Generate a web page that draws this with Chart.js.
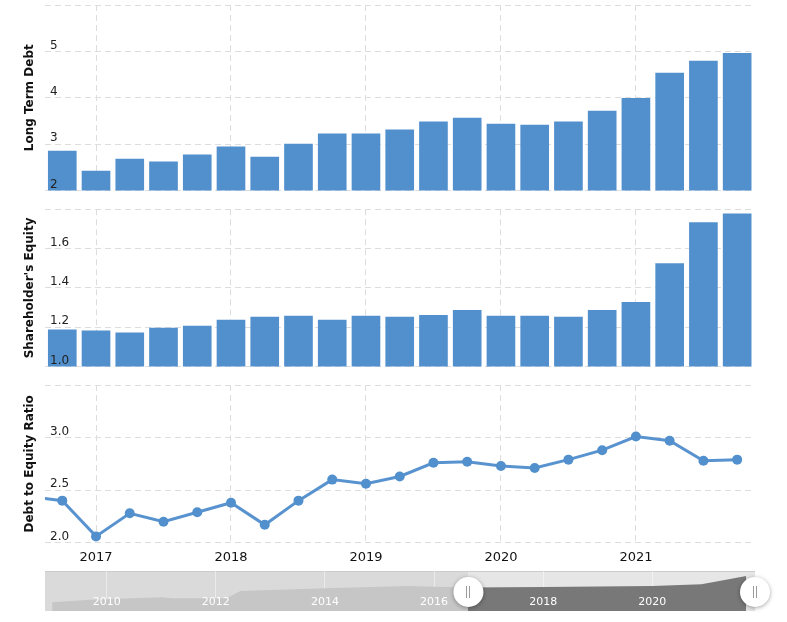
<!DOCTYPE html>
<html>
<head>
<meta charset="utf-8">
<script src="https://cdn.jsdelivr.net/npm/chart.js@4.4.1/dist/chart.umd.min.js"></script>
<style>
  html, body { margin: 0; padding: 0; background: #fff; }
  #wrap { position: relative; width: 787px; height: 622px; overflow: hidden; }
  canvas { position: absolute; left: 0; }
</style>
</head>
<body>
<div id="wrap">
  <canvas id="c1" width="787" height="200" style="top:0px"></canvas>
  <canvas id="c2" width="787" height="175" style="top:200px"></canvas>
  <canvas id="c3" width="787" height="195" style="top:375px"></canvas>
  <canvas id="c4" width="787" height="50" style="top:565px"></canvas>
</div>
<script>
// ---------------- data ----------------
const quarterEnds = ['2016-06-30','2016-09-30','2016-12-31','2017-03-31','2017-06-30','2017-09-30','2017-12-31',
  '2018-03-31','2018-06-30','2018-09-30','2018-12-31','2019-03-31','2019-06-30','2019-09-30','2019-12-31',
  '2020-03-31','2020-06-30','2020-09-30','2020-12-31','2021-03-31','2021-06-30','2021-09-30'];
const longTermDebt = [null, 2.85, 2.42, 2.68, 2.62, 2.77, 2.94, 2.72, 3.00, 3.22, 3.22, 3.31, 3.48, 3.56, 3.43, 3.41, 3.48, 3.71, 3.99, 4.53, 4.79, 4.96];
const shareholdersEquity = [null, 1.186, 1.181, 1.171, 1.196, 1.206, 1.236, 1.251, 1.257, 1.236, 1.256, 1.251, 1.261, 1.286, 1.256, 1.256, 1.251, 1.286, 1.327, 1.524, 1.732, 1.777];
const debtToEquity = [2.44, 2.40, 2.06, 2.28, 2.20, 2.29, 2.38, 2.17, 2.40, 2.60, 2.56, 2.63, 2.76, 2.77, 2.73, 2.71, 2.79, 2.88, 3.01, 2.97, 2.78, 2.79];

const yearTickLabels = ['2017', '2018', '2019', '2020', '2021'];
const debtTickLabels = ['2', '3', '4', '5'];
const equityTickLabels = ['1.0', '1.2', '1.4', '1.6'];
const ratioTickLabels = ['2.0', '2.5', '3.0'];

// navigator overview series (decimal year, relative level)
const navYears  = [2009.0, 2009.7, 2011.0, 2011.2, 2012.2, 2012.45, 2014.0, 2015.5, 2016.6, 2018.0, 2020.0, 2020.9, 2021.35, 2021.72];
const navValues = [1.24, 1.61, 1.96, 1.81, 1.81, 2.86, 3.24, 3.57, 3.36, 3.43, 3.57, 3.81, 4.45, 5.0];
const navTickLabels = ['2010', '2012', '2014', '2016', '2018', '2020'];
const navSelection = [2016.63, 2021.882];

// axis ranges
const X_MIN = 2016.622, X_MAX = 2021.86;
const NAV_MIN = 2008.869, NAV_MAX = 2021.882;

// ---------------- helpers ----------------
const FONT = 'DejaVu Sans';
const BLUE = '#5290cd';
const LINE_BLUE = '#5893cf';
const GRID = '#dddddd';

function toYear(d) {
  const [y, m] = d.split('-').map(Number);
  return y + m / 12;
}
const xs = quarterEnds.map(toYear);
const pts = arr => xs.map((x, i) => ({ x, y: arr[i] }));

function noPad(s) { s.paddingTop = 0; s.paddingBottom = 0; s.paddingLeft = 0; s.paddingRight = 0; }

function xAxis(showLabels) {
  return {
    type: 'linear', min: X_MIN, max: X_MAX, offset: false,
    grid: { color: GRID, drawTicks: false, offset: false },
    border: { display: false, dash: [6, 4] },
    ticks: {
      display: showLabels, stepSize: 1, includeBounds: false, padding: 7,
      color: '#111', font: { family: FONT, size: 13 },
      maxRotation: 0, autoSkip: false,
      callback: v => { const s = String(Math.round(v)); return yearTickLabels.includes(s) ? s : ''; }
    },
    afterFit: s => { s.height = showLabels ? 27.3 : 0; noPad(s); }
  };
}

function yAxis(min, max, step, title, labels) {
  return {
    min, max,
    grid: { color: GRID, drawTicks: false },
    border: { display: false, dash: [6, 4] },
    ticks: {
      stepSize: step, mirror: true, padding: 5, labelOffset: -6, z: 1,
      color: '#222', font: { family: FONT, size: 12 },
      callback: (v, i) => labels[i] ?? ''
    },
    title: {
      display: true, text: title, color: '#111',
      font: { family: FONT, size: 12, weight: 'bold' },
      padding: { top: 4, bottom: 4 }
    },
    afterFit: s => { s.width = 26; noPad(s); }
  };
}

const common = {
  responsive: false, animation: false,
  plugins: { legend: { display: false }, tooltip: { enabled: false } }
};

// ---------------- chart 1: Long Term Debt ----------------
new Chart(document.getElementById('c1'), {
  type: 'bar',
  data: { datasets: [{ data: pts(longTermDebt), backgroundColor: BLUE, barThickness: 28 }] },
  options: {
    ...common,
    layout: { autoPadding: false, padding: { top: 5, left: 19, right: 35, bottom: 9.5 } },
    scales: { x: xAxis(false), y: yAxis(2, 6, 1, 'Long Term Debt', debtTickLabels) }
  }
});

// ---------------- chart 2: Shareholder's Equity ----------------
new Chart(document.getElementById('c2'), {
  type: 'bar',
  data: { datasets: [{ data: pts(shareholdersEquity), backgroundColor: BLUE, barThickness: 28 }] },
  options: {
    ...common,
    layout: { autoPadding: false, padding: { top: 9.3, left: 19, right: 35, bottom: 8.5 } },
    scales: { x: xAxis(false), y: yAxis(1.0, 1.8, 0.2, "Shareholder's Equity", equityTickLabels) }
  }
});

// ---------------- chart 3: Debt to Equity Ratio ----------------
new Chart(document.getElementById('c3'), {
  type: 'line',
  data: { datasets: [{
    data: pts(debtToEquity), borderColor: LINE_BLUE, borderWidth: 3, tension: 0,
    pointRadius: 5, pointBackgroundColor: BLUE, pointBorderWidth: 0, fill: false
  }] },
  options: {
    ...common,
    layout: { autoPadding: false, padding: { top: 10, left: 19, right: 35, bottom: 0 } },
    scales: { x: xAxis(true), y: yAxis(2.0, 3.5, 0.5, 'Debt to Equity Ratio', ratioTickLabels) }
  }
});

// ---------------- chart 4: navigator ----------------
const navPlugin = {
  id: 'navDecor',
  beforeDraw(chart) {
    const { ctx, chartArea: a, scales: { x } } = chart;
    const sx = x.getPixelForValue(navSelection[0]);
    ctx.save();
    ctx.fillStyle = '#dadada';
    ctx.fillRect(a.left, a.top, sx - a.left, a.bottom - a.top);
    ctx.fillStyle = '#e6e6e6';
    ctx.fillRect(sx, a.top, a.right - sx, a.bottom - a.top);
    ctx.fillStyle = '#cccccc';
    ctx.fillRect(a.left, a.top, a.right - a.left, 1);
    ctx.restore();
  },
  afterDraw(chart) {
    const { ctx, chartArea: a, scales: { x } } = chart;
    const cy = (a.top + a.bottom) / 2 + 1;
    navSelection.forEach(v => {
      const cx = x.getPixelForValue(v);
      ctx.save();
      ctx.shadowColor = 'rgba(0,0,0,0.35)';
      ctx.shadowBlur = 4;
      ctx.shadowOffsetY = 1;
      ctx.beginPath();
      ctx.arc(cx, cy, 15, 0, Math.PI * 2);
      ctx.fillStyle = '#ffffff';
      ctx.fill();
      ctx.restore();
      ctx.save();
      ctx.strokeStyle = '#9a9a9a';
      ctx.lineWidth = 1;
      ctx.beginPath();
      ctx.moveTo(Math.round(cx - 2) + 0.5, cy - 6); ctx.lineTo(Math.round(cx - 2) + 0.5, cy + 6);
      ctx.moveTo(Math.round(cx + 1) + 0.5, cy - 6); ctx.lineTo(Math.round(cx + 1) + 0.5, cy + 6);
      ctx.stroke();
      ctx.restore();
    });
  }
};

new Chart(document.getElementById('c4'), {
  type: 'line',
  data: { datasets: [{
    data: navYears.map((x, i) => ({ x, y: navValues[i] })),
    borderWidth: 0, pointRadius: 0, tension: 0, fill: 'start',
    backgroundColor: (ctx) => {
      const chart = ctx.chart;
      const a = chart.chartArea;
      if (!a) return '#c6c6c6';
      const sx = chart.scales.x.getPixelForValue(navSelection[0]);
      const f = Math.min(1, Math.max(0, (sx - a.left) / (a.right - a.left)));
      const g = chart.ctx.createLinearGradient(a.left, 0, a.right, 0);
      g.addColorStop(0, '#c6c6c6');
      g.addColorStop(f, '#c6c6c6');
      g.addColorStop(f, '#787878');
      g.addColorStop(1, '#787878');
      return g;
    }
  }] },
  options: {
    ...common,
    layout: { autoPadding: false, padding: { top: 6, left: 45, right: 32, bottom: 4 } },
    scales: {
      x: {
        type: 'linear', min: NAV_MIN, max: NAV_MAX,
        grid: { color: 'rgba(255,255,255,0.45)', drawTicks: false },
        border: { display: false },
        ticks: {
          stepSize: 2, includeBounds: false, mirror: true, padding: 2.5, z: 1,
          color: '#ffffff', font: { family: FONT, size: 11 }, maxRotation: 0, autoSkip: false,
          callback: v => { const s = String(Math.round(v)); return navTickLabels.includes(s) ? s : ''; }
        },
        afterFit: s => { s.height = 0; noPad(s); }
      },
      y: { display: false, min: 0, max: 5.714 }
    }
  },
  plugins: [navPlugin]
});
</script>
</body>
</html>
